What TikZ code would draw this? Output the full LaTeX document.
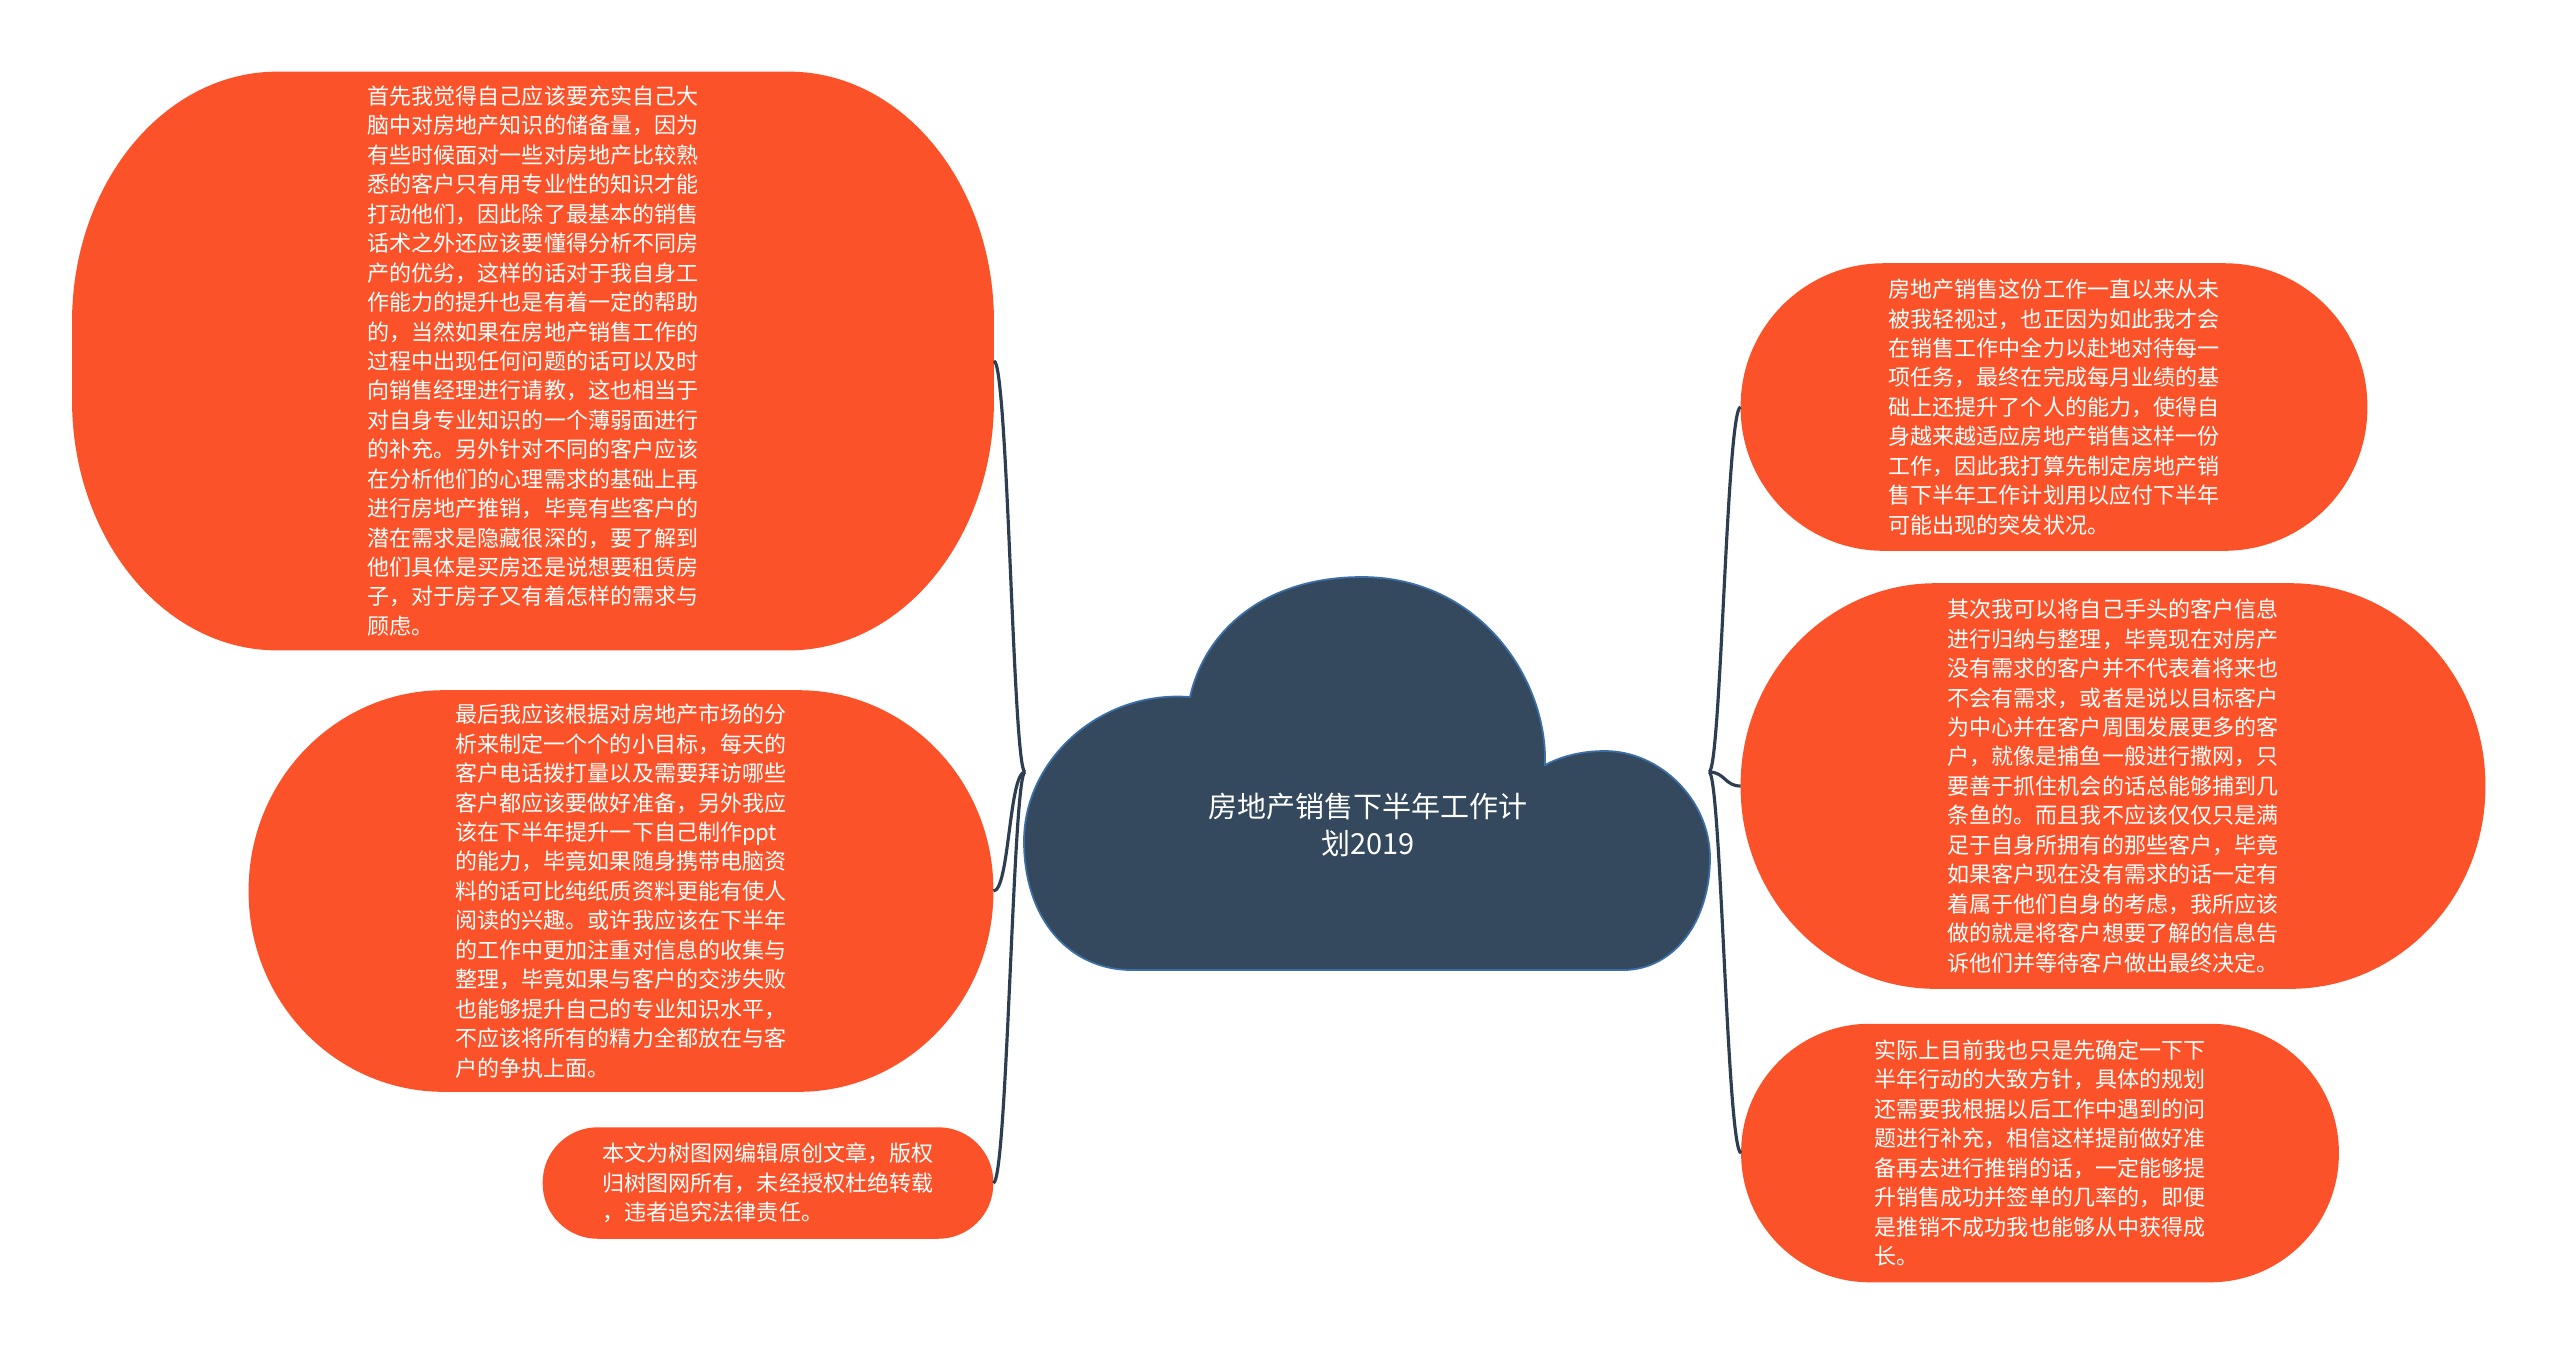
\documentclass[tikz,border=0pt]{standalone}
\usepackage{fontspec}
\setmainfont{Noto Sans CJK SC}
\usepackage{tikz}
\usetikzlibrary{backgrounds}
\definecolor{c1}{HTML}{FB5229}
\definecolor{c2}{HTML}{34495E}
\definecolor{c3}{HTML}{2C3E50}
\definecolor{c4}{HTML}{3C6FA8}
\newcommand{\bodytext}{\fontsize{6.26}{8.37}\selectfont}
\newcommand{\hubtext}{\fontsize{8.25}{10.7}\selectfont}

\begin{document}
\begin{tikzpicture}[
  x=0.01cm,y=-0.01cm,
  topic/.style={rectangle,text=white,align=left,inner sep=0pt,font=\bodytext},
  link/.style={draw=c3,line width=0.9pt}]

\useasboundingbox (0,0) rectangle (2560,1356);

% central cloud
\filldraw[fill=c2,draw=c4,line width=0.5pt]
  (1132,970) -- (1623,970)
  .. controls (1675,970) and (1710,920) .. (1710,858)
  .. controls (1710,800) and (1660,751) .. (1605,751)
  .. controls (1580,751) and (1560,757) .. (1545,765)
  .. controls (1548,680) and (1480,577) .. (1362,577)
  .. controls (1265,577) and (1205,630) .. (1190,697)
  .. controls (1100,690) and (1024,760) .. (1024,841)
  .. controls (1024,920) and (1070,970) .. (1132,970) -- cycle;
\node[text=white,font=\hubtext,align=center] (hub) at (1368,825)
  {房地产销售下半年工作计\\划2019};
\coordinate (hubW) at (1025,772);
\coordinate (hubE) at (1709,772);

% left branch
\node[topic,minimum width=9.2cm,minimum height=5.77cm] (l1) at (533,361)
  {首先我觉得自己应该要充实自己大\\脑中对房地产知识的储备量，因为\\有些时候面对一些对房地产比较熟\\
   悉的客户只有用专业性的知识才能\\打动他们，因此除了最基本的销售\\话术之外还应该要懂得分析不同房\\
   产的优劣，这样的话对于我自身工\\作能力的提升也是有着一定的帮助\\的，当然如果在房地产销售工作的\\
   过程中出现任何问题的话可以及时\\向销售经理进行请教，这也相当于\\对自身专业知识的一个薄弱面进行\\
   的补充。另外针对不同的客户应该\\在分析他们的心理需求的基础上再\\进行房地产推销，毕竟有些客户的\\
   潜在需求是隐藏很深的，要了解到\\他们具体是买房还是说想要租赁房\\子，对于房子又有着怎样的需求与\\顾虑。};
\node[topic,minimum width=7.43cm,minimum height=4cm] (l2) at (621,891)
  {最后我应该根据对房地产市场的分\\析来制定一个个的小目标，每天的\\客户电话拨打量以及需要拜访哪些\\
   客户都应该要做好准备，另外我应\\该在下半年提升一下自己制作ppt\\的能力，毕竟如果随身携带电脑资\\
   料的话可比纯纸质资料更能有使人\\阅读的兴趣。或许我应该在下半年\\的工作中更加注重对信息的收集与\\
   整理，毕竟如果与客户的交涉失败\\也能够提升自己的专业知识水平，\\不应该将所有的精力全都放在与客\\
   户的争执上面。};
\node[topic,minimum width=4.49cm,minimum height=1.1cm] (l3) at (768,1183)
  {本文为树图网编辑原创文章，版权\\归树图网所有，未经授权杜绝转载\\，违者追究法律责任。};

% right branch
\node[topic,minimum width=6.25cm,minimum height=2.86cm] (r1) at (2054,407)
  {房地产销售这份工作一直以来从未\\被我轻视过，也正因为如此我才会\\在销售工作中全力以赴地对待每一\\
   项任务，最终在完成每月业绩的基\\础上还提升了个人的能力，使得自\\身越来越适应房地产销售这样一份\\
   工作，因此我打算先制定房地产销\\售下半年工作计划用以应付下半年\\可能出现的突发状况。};
\node[topic,minimum width=7.43cm,minimum height=4.04cm] (r2) at (2113,786)
  {其次我可以将自己手头的客户信息\\进行归纳与整理，毕竟现在对房产\\没有需求的客户并不代表着将来也\\
   不会有需求，或者是说以目标客户\\为中心并在客户周围发展更多的客\\户，就像是捕鱼一般进行撒网，只\\
   要善于抓住机会的话总能够捕到几\\条鱼的。而且我不应该仅仅只是满\\足于自身所拥有的那些客户，毕竟\\
   如果客户现在没有需求的话一定有\\着属于他们自身的考虑，我所应该\\做的就是将客户想要了解的信息告\\
   诉他们并等待客户做出最终决定。};
\node[topic,minimum width=5.96cm,minimum height=2.57cm] (r3) at (2040,1153)
  {实际上目前我也只是先确定一下下\\半年行动的大致方针，具体的规划\\还需要我根据以后工作中遇到的问\\
   题进行补充，相信这样提前做好准\\备再去进行推销的话，一定能够提\\升销售成功并签单的几率的，即便\\
   是推销不成功我也能够从中获得成\\长。};

% white page and blobs behind the topics (elliptic corners)
\begin{scope}[on background layer]
\fill[white] (0,0) rectangle (2560,1356);
\foreach \n/\rx/\ry in {l1/2.05cm/2.5cm, l2/1.95cm/2cm, l3/0.55cm/0.55cm,
                        r1/1.43cm/1.43cm, r2/1.95cm/2.02cm, r3/1.285cm/1.285cm}
  \fill[c1] ([xshift=\rx]\n.north west) -- ([xshift=-\rx]\n.north east)
    arc[start angle=90,end angle=0,x radius=\rx,y radius=\ry]
    -- ([yshift=\ry]\n.south east)
    arc[start angle=0,end angle=-90,x radius=\rx,y radius=\ry]
    -- ([xshift=\rx]\n.south west)
    arc[start angle=270,end angle=180,x radius=\rx,y radius=\ry]
    -- ([yshift=-\ry]\n.north west)
    arc[start angle=180,end angle=90,x radius=\rx,y radius=\ry] -- cycle;
\end{scope}

\draw[link] (hubW) .. controls +(-12,0) and +(14,0) .. (l1.east);
\draw[link] (hubW) .. controls +(-16,0) and +(16,0) .. (l2.east);
\draw[link] (hubW) .. controls +(-12,0) and +(14,0) .. (l3.east);
\draw[link] (hubE) .. controls +(12,0) and +(-14,0) .. (r1.west);
\draw[link] (hubE) .. controls +(16,0) and +(-16,0) .. (r2.west);
\draw[link] (hubE) .. controls +(12,0) and +(-14,0) .. (r3.west);
\end{tikzpicture}
\end{document}
